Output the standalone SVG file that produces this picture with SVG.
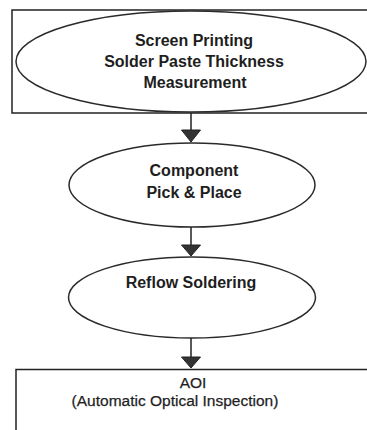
<svg xmlns="http://www.w3.org/2000/svg" width="367" height="430" viewBox="0 0 367 430">
  <style>
    .box { fill: #ffffff; stroke: #222222; stroke-width: 1.5; }
    .oval { fill: #ffffff; stroke: #2a2a2a; stroke-width: 1.5; }
    .lbl { font-family: "Liberation Sans", Arial, sans-serif; font-size: 16px; font-weight: bold; fill: #1e1e1e; text-anchor: middle; }
    .plain { font-weight: normal; font-size: 15.5px; stroke: #1e1e1e; stroke-width: 0.25; }
    .link { stroke: #222222; stroke-width: 1.5; fill: none; }
    .head { fill: #333333; stroke: #222222; stroke-width: 1; }
  </style>
  <rect width="367" height="430" fill="#ffffff"/>

  <g id="screen-printing">
    <rect class="box" x="12" y="10" width="362" height="103"/>
    <ellipse class="oval" cx="191" cy="61.5" rx="175" ry="50.5"/>
    <text class="lbl" x="194" y="45.5">Screen Printing</text>
    <text class="lbl" x="194" y="66.5">Solder Paste Thickness</text>
    <text class="lbl" x="195" y="87.5">Measurement</text>
  </g>

  <g id="pick-place">
    <ellipse class="oval" cx="192" cy="185" rx="123" ry="42"/>
    <text class="lbl" x="194" y="175.5">Component</text>
    <text class="lbl" x="194" y="197.5">Pick &amp; Place</text>
  </g>

  <g id="reflow">
    <ellipse class="oval" cx="192" cy="297.5" rx="123.5" ry="40.5"/>
    <text class="lbl" x="191" y="287.5">Reflow Soldering</text>
  </g>

  <g id="aoi">
    <rect class="box" x="16" y="369.5" width="360" height="80"/>
    <text class="lbl plain" x="193" y="388">AOI</text>
    <text class="lbl plain" x="175" y="406">(Automatic Optical Inspection)</text>
  </g>

  <g id="connectors">
    <line class="link" x1="191" y1="113" x2="191" y2="131"/>
    <polygon class="head" points="181.5,130 200.5,130 191,142"/>
    <line class="link" x1="191" y1="227" x2="191" y2="246"/>
    <polygon class="head" points="181.5,245 200.5,245 191,256"/>
    <line class="link" x1="191" y1="338" x2="191" y2="358"/>
    <polygon class="head" points="181.5,357 200.5,357 191,368"/>
  </g>
</svg>
